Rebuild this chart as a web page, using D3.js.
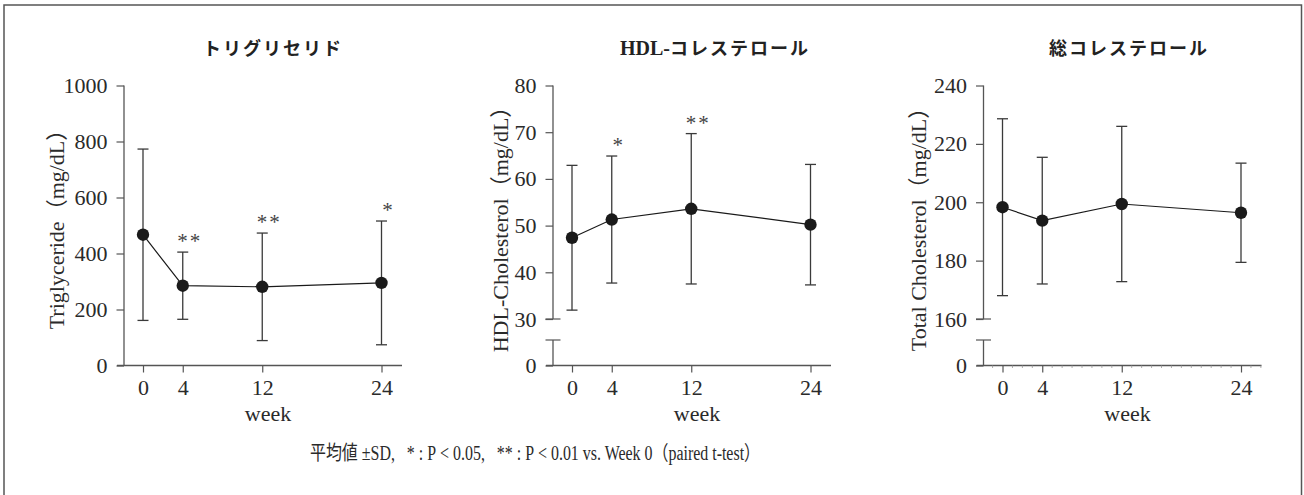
<!DOCTYPE html>
<html><head><meta charset="utf-8">
<script src="https://cdn.jsdelivr.net/npm/d3@7"></script>
<style>
body{margin:0;background:#fff;}
svg{display:block;}
</style>
</head><body>
<svg id="chart" width="1304" height="495"></svg>
<script>
// ---- data ----
const weeks = [0, 4, 12, 24];
const xTicks = [0, 4, 12, 24];

const tgMean = [467, 285, 281, 295];
const tgSD   = [306, 120, 192, 221];
const tgSig  = ["", "**", "**", "*"];
const tgTicks = [0, 200, 400, 600, 800, 1000];

const hdlMean = [47.4, 51.3, 53.6, 50.2];
const hdlSD   = [15.5, 13.6, 16.1, 12.9];
const hdlSig  = ["", "*", "**", ""];
const hdlTicks = [0, 30, 40, 50, 60, 70, 80];

const tcMean = [198.3, 193.7, 199.4, 196.4];
const tcSD   = [30.3, 21.7, 26.6, 17.0];
const tcSig  = ["", "", "", ""];
const tcTicks = [0, 160, 180, 200, 220, 240];

const titles = ["トリグリセリド", "HDL-コレステロール", "総コレステロール"];
const yLabels = ["Triglyceride（mg/dL）", "HDL-Cholesterol（mg/dL）", "Total Cholesterol（mg/dL）"];
const footnote = "平均値 ±SD,\u00a0\u00a0 * : P\u00a0<\u00a00.05,\u00a0\u00a0 ** : P\u00a0<\u00a00.01 vs. Week 0（paired t-test）";

// ---- layout ----
const svg = d3.select("#chart");
const yTop = 85.5, yBottom = 365.5, breakY = 319, breakLow = 340;
const serif = '"Liberation Serif","Noto Sans CJK JP",serif';
const gothic = '"Noto Sans CJK JP","Noto Sans",sans-serif';
const axisCol = "#555", barCol = "#3a3a3a", markCol = "#1a1a1a", textCol = "#2a2a2a";
const fs = 22;

svg.append("rect").attr("x", 4).attr("y", 5).attr("width", 1297.5).attr("height", 520)
  .attr("fill", "none").attr("stroke", "#555").attr("stroke-width", 1.5);

const panels = [
  {ax: 124, mean: tgMean, sd: tgSD, sig: tgSig, ticks: tgTicks, brk: false, titleX: 273, ylabX: 56, minor: false},
  {ax: 553, mean: hdlMean, sd: hdlSD, sig: hdlSig, ticks: hdlTicks, brk: true, titleX: 715, ylabX: 500, minor: false},
  {ax: 983.5, mean: tcMean, sd: tcSD, sig: tcSig, ticks: tcTicks, brk: true, titleX: 1129, ylabX: 918, minor: true}
];

panels.forEach((p, i) => {
  const g = svg.append("g");
  const x = d3.scaleLinear().domain([0, 24]).range([p.ax + 19, p.ax + 257.5]);
  let y;
  const tmin = p.ticks[0], tmax = p.ticks[p.ticks.length - 1];
  if (p.brk) {
    const lowAbove = p.ticks[1];
    y = d3.scaleLinear().domain([tmin, lowAbove, tmax]).range([yBottom, breakY, yTop]);
  } else {
    y = d3.scaleLinear().domain([tmin, tmax]).range([yBottom, yTop]);
  }

  // x axis
  const xAxis = d3.axisBottom(x).tickValues(xTicks).tickFormat(d3.format("d"))
    .tickSize(7).tickSizeOuter(0).tickPadding(7);
  const gx = g.append("g").attr("transform", `translate(0,${yBottom})`).call(xAxis)
    .attr("font-family", serif).attr("font-size", fs);
  gx.select(".domain").remove();
  gx.selectAll(".tick line").attr("stroke", axisCol).attr("stroke-width", 1.2);
  gx.selectAll(".tick text").attr("fill", textCol);
  g.append("line").attr("x1", p.ax - 7).attr("x2", p.ax + 278)
    .attr("y1", yBottom).attr("y2", yBottom).attr("stroke", axisCol).attr("stroke-width", 1.3);
  if (p.minor) {
    const mw = d3.range(-1, 27).filter(w => !xTicks.includes(w));
    g.selectAll(".minor").data(mw).enter().append("line")
      .attr("x1", d => x(d)).attr("x2", d => x(d))
      .attr("y1", yBottom).attr("y2", yBottom + 2.5)
      .attr("stroke", "#999").attr("stroke-width", 0.8);
  }
  g.append("text").attr("x", p.ax + 144).attr("y", 421)
    .attr("text-anchor", "middle").attr("font-family", serif).attr("font-size", fs)
    .attr("fill", textCol).text("week");

  // y axis
  const yAxis = d3.axisLeft(y).tickValues(p.ticks).tickFormat(d3.format("d"))
    .tickSize(7.5).tickPadding(9);
  const gy = g.append("g").attr("transform", `translate(${p.ax},0)`).call(yAxis)
    .attr("font-family", serif).attr("font-size", fs);
  gy.select(".domain").remove();
  gy.selectAll(".tick line").attr("stroke", axisCol).attr("stroke-width", 1.2);
  gy.selectAll(".tick text").attr("fill", textCol);
  if (p.brk) {
    g.append("line").attr("x1", p.ax).attr("x2", p.ax).attr("y1", yTop).attr("y2", breakY)
      .attr("stroke", axisCol).attr("stroke-width", 1.3);
    g.append("line").attr("x1", p.ax).attr("x2", p.ax).attr("y1", breakLow).attr("y2", yBottom)
      .attr("stroke", axisCol).attr("stroke-width", 1.3);
    [breakY, breakLow].forEach(by => {
      g.append("line").attr("x1", p.ax - 7.5).attr("x2", p.ax + 7.5).attr("y1", by).attr("y2", by)
        .attr("stroke", axisCol).attr("stroke-width", 1.2);
    });
  } else {
    g.append("line").attr("x1", p.ax).attr("x2", p.ax).attr("y1", yTop).attr("y2", yBottom)
      .attr("stroke", axisCol).attr("stroke-width", 1.3);
  }

  // y label
  g.append("text").attr("transform", `translate(${p.ylabX},224) rotate(-90)`)
    .attr("text-anchor", "middle").attr("dominant-baseline", "central")
    .attr("font-family", serif).attr("font-size", fs).attr("fill", textCol).text(yLabels[i]);

  // title
  const t = g.append("text").attr("x", p.titleX).attr("y", 55).attr("text-anchor", "middle")
    .attr("font-size", 18).attr("font-weight", "bold").attr("fill", "#222").attr("letter-spacing", 2);
  if (i === 1) {
    t.append("tspan").attr("font-family", '"Liberation Serif",serif').attr("font-size", 20).attr("letter-spacing", 0).text("HDL-");
    t.append("tspan").attr("font-family", gothic).attr("letter-spacing", 2).text("コレステロール");
  } else {
    t.attr("font-family", gothic).text(titles[i]);
  }

  const data = weeks.map((w, k) => ({w, m: p.mean[k], sd: p.sd[k], s: p.sig[k]}));
  const cap = 5.5;
  // error bars
  const eb = g.selectAll(".eb").data(data).enter().append("g");
  eb.append("line").attr("x1", d => x(d.w)).attr("x2", d => x(d.w))
    .attr("y1", d => y(d.m - d.sd)).attr("y2", d => y(d.m + d.sd))
    .attr("stroke", barCol).attr("stroke-width", 1.3);
  eb.append("line").attr("x1", d => x(d.w) - cap).attr("x2", d => x(d.w) + cap)
    .attr("y1", d => y(d.m + d.sd)).attr("y2", d => y(d.m + d.sd))
    .attr("stroke", barCol).attr("stroke-width", 1.3);
  eb.append("line").attr("x1", d => x(d.w) - cap).attr("x2", d => x(d.w) + cap)
    .attr("y1", d => y(d.m - d.sd)).attr("y2", d => y(d.m - d.sd))
    .attr("stroke", barCol).attr("stroke-width", 1.3);

  // line
  g.append("path").datum(data)
    .attr("d", d3.line().x(d => x(d.w)).y(d => y(d.m)))
    .attr("fill", "none").attr("stroke", markCol).attr("stroke-width", 1.2);
  // markers
  g.selectAll(".pt").data(data).enter().append("circle")
    .attr("cx", d => x(d.w)).attr("cy", d => y(d.m)).attr("r", 6.2).attr("fill", markCol);

  // significance
  g.selectAll(".sig").data(data.filter(d => d.s)).enter().append("text")
    .attr("x", d => x(d.w) + 7).attr("y", d => y(d.m + d.sd) - 4)
    .attr("text-anchor", "middle")
    .attr("font-family", '"Liberation Serif",serif').attr("font-size", 21).attr("letter-spacing", 2)
    .attr("fill", "#444").text(d => d.s);
});

svg.append("text").attr("x", 535).attr("y", 460).attr("text-anchor", "middle")
  .attr("font-family", serif).attr("font-size", 20).attr("fill", textCol)
  .attr("textLength", 450).attr("lengthAdjust", "spacingAndGlyphs")
  .text(footnote);
</script>
</body></html>
